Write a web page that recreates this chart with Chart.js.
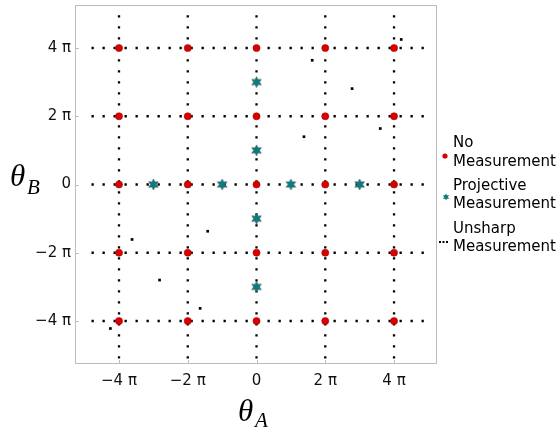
<!DOCTYPE html>
<html>
<head>
<meta charset="utf-8">
<script src="https://cdn.jsdelivr.net/npm/chart.js@4.4.1/dist/chart.umd.min.js"></script>
<style>
  html, body { margin: 0; padding: 0; background: #fff; }
  #wrap { width: 559px; height: 431px; }
</style>
</head>
<body>
<div id="wrap"><canvas id="chart" width="559" height="431"></canvas></div>
<script>
// all values in units of pi
const tickValues = [-4, -2, 0, 2, 4];
const tickLabels = ["\u22124 \u03c0", "\u22122 \u03c0", "0", "2 \u03c0", "4 \u03c0"];

// no measurement: every crossing of the 2pi grid
const nodeValues = [-4, -2, 0, 2, 4];

// projective measurement
const projX = [-3, -1, 1, 3, 0, 0, 0, 0];
const projY = [0, 0, 0, 0, -3, -1, 1, 3];

// unsharp measurement
const unsharpX = [4.21, 1.62, 2.78, 1.38, 3.60, -1.42, -3.62, -2.82, -1.64, -4.25];
const unsharpY = [4.25, 3.64, 2.81, 1.40, 1.64, -1.37, -1.61, -2.80, -3.63, -4.22];

// extent of the dotted guide lines
const vLineSpan = [-5.1, 5.1];
const hLineSpan = [-4.8, 5.05];

const RED = "#d90000";
const TEAL = "#0a7d7f";
const FONT = "'DejaVu Sans', sans-serif";

function starPath(ctx, cx, cy, rOut, rIn, n) {
  ctx.beginPath();
  for (let i = 0; i < n * 2; i++) {
    const r = i % 2 === 0 ? rOut : rIn;
    const a = -Math.PI / 2 + i * Math.PI / n;
    const px = cx + r * Math.cos(a), py = cy + r * Math.sin(a);
    if (i === 0) ctx.moveTo(px, py); else ctx.lineTo(px, py);
  }
  ctx.closePath();
}

function makeStar(rOut, rIn) {
  const c = document.createElement("canvas");
  const s = Math.ceil(rOut * 2 + 2);
  c.width = s; c.height = s;
  const g = c.getContext("2d");
  starPath(g, s / 2, s / 2, rOut, rIn, 6);
  g.fillStyle = TEAL;
  g.fill();
  g.strokeStyle = "#3b5a5a";
  g.lineWidth = 0.6;
  g.stroke();
  return c;
}

const noMeas = [];
nodeValues.forEach(x => nodeValues.forEach(y => noMeas.push({ x, y })));

const datasets = [
  {
    label: "No Measurement",
    data: noMeas,
    pointStyle: "circle",
    pointRadius: 3.6,
    backgroundColor: RED,
    borderColor: "#a00000",
    borderWidth: 0.5,
    order: 1
  },
  {
    label: "Projective Measurement",
    data: projX.map((x, i) => ({ x, y: projY[i] })),
    pointStyle: makeStar(5.5, 2.9),
    order: 1
  },
  {
    label: "Unsharp Measurement",
    data: unsharpX.map((x, i) => ({ x, y: unsharpY[i] })),
    pointStyle: "rect",
    pointRadius: 1.9,
    backgroundColor: "#000",
    borderWidth: 0,
    order: 1
  }
];

const lineStyle = {
  showLine: true,
  pointRadius: 0,
  borderColor: "#000",
  borderWidth: 2.3,
  borderDash: [2.3, 8.7],
  order: 2
};
tickValues.forEach(v => {
  datasets.push(Object.assign({ data: [{ x: v, y: vLineSpan[0] }, { x: v, y: vLineSpan[1] }] }, lineStyle));
  datasets.push(Object.assign({ data: [{ x: hLineSpan[0], y: v }, { x: hLineSpan[1], y: v }] }, lineStyle));
});

// frame, inward ticks, axis titles and legend
const decorations = {
  id: "decorations",
  afterDraw(chart) {
    const ctx = chart.ctx;
    const a = chart.chartArea;
    const xs = chart.scales.x, ys = chart.scales.y;
    ctx.save();
    ctx.strokeStyle = "#bcbcbc";
    ctx.lineWidth = 1;
    ctx.strokeRect(a.left + 0.5, a.top + 0.5, a.right - a.left - 1, a.bottom - a.top - 1);
    ctx.beginPath();
    tickValues.forEach(v => {
      const px = Math.round(xs.getPixelForValue(v)) + 0.5;
      ctx.moveTo(px, a.bottom); ctx.lineTo(px, a.bottom - 4);
      const py = Math.round(ys.getPixelForValue(v)) + 0.5;
      ctx.moveTo(a.left, py); ctx.lineTo(a.left + 4, py);
    });
    ctx.stroke();

    // axis titles
    ctx.fillStyle = "#000";
    ctx.textBaseline = "alphabetic";
    ctx.textAlign = "left";
    ctx.font = "italic 31px 'Liberation Serif', serif";
    ctx.fillText("\u03b8", 238, 421);
    ctx.fillText("\u03b8", 10, 186);
    ctx.font = "italic 21px 'Liberation Serif', serif";
    ctx.fillText("A", 255, 427);
    ctx.fillText("B", 27, 194);

    // legend
    ctx.font = "15px " + FONT;
    ctx.textBaseline = "middle";
    const lx = 453;
    [["No", 143], ["Measurement", 162], ["Projective", 186], ["Measurement", 204],
     ["Unsharp", 229], ["Measurement", 247]].forEach(([t, y]) => ctx.fillText(t, lx, y));
    ctx.fillStyle = RED;
    ctx.beginPath();
    ctx.arc(445, 156, 2.6, 0, Math.PI * 2);
    ctx.fill();
    starPath(ctx, 446, 197, 3.6, 1.9, 6);
    ctx.fillStyle = TEAL;
    ctx.fill();
    ctx.fillStyle = "#000";
    [440, 443.5, 447].forEach(x => ctx.fillRect(x - 1, 241, 2, 2));
    ctx.restore();
  }
};

new Chart(document.getElementById("chart"), {
  type: "scatter",
  data: { datasets },
  options: {
    responsive: false,
    animation: false,
    events: [],
    layout: { padding: { top: 0, right: 122, left: 0, bottom: 0 } },
    plugins: { legend: { display: false }, tooltip: { enabled: false } },
    scales: {
      x: {
        type: "linear",
        min: -5.28,
        max: 5.25,
        grid: { display: false, drawTicks: false },
        border: { display: false },
        afterFit: s => { s.height = 67; s.paddingLeft = 0; s.paddingRight = 0; s.paddingTop = 0; s.paddingBottom = 0; },
        afterBuildTicks: s => { s.ticks = tickValues.map(v => ({ value: v })); },
        ticks: {
          padding: 8,
          autoSkip: false,
          maxRotation: 0,
          color: "#111",
          font: { family: FONT, size: 15 },
          callback: v => tickLabels[tickValues.indexOf(v)]
        }
      },
      y: {
        type: "linear",
        min: -5.26,
        max: 5.26,
        grid: { display: false, drawTicks: false },
        border: { display: false },
        afterFit: s => { s.width = 75; s.paddingTop = 0; s.paddingBottom = 0; s.paddingLeft = 0; s.paddingRight = 0; },
        afterBuildTicks: s => { s.ticks = tickValues.map(v => ({ value: v })); },
        ticks: {
          padding: 4,
          autoSkip: false,
          color: "#111",
          font: { family: FONT, size: 15 },
          callback: v => tickLabels[tickValues.indexOf(v)]
        }
      }
    }
  },
  plugins: [decorations]
});
</script>
</body>
</html>
